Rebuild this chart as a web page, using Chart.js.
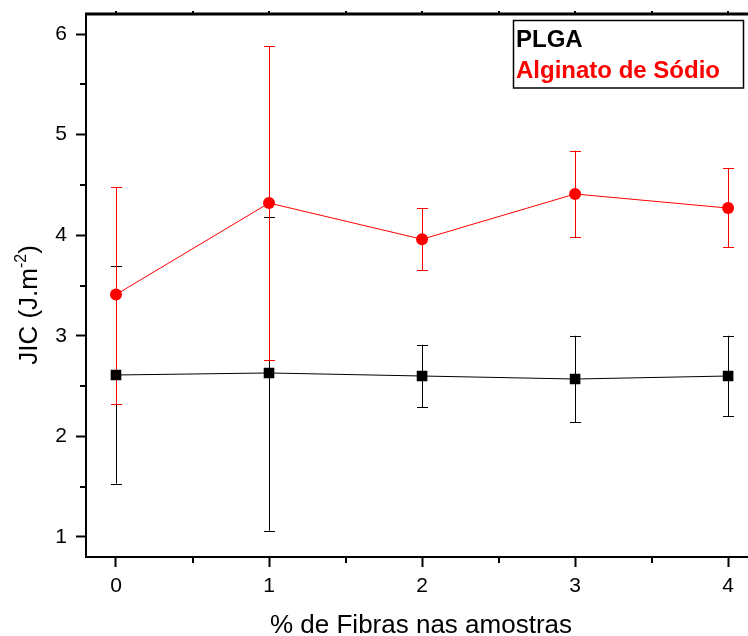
<!DOCTYPE html>
<html>
<head>
<meta charset="utf-8">
<script src="https://cdn.jsdelivr.net/npm/chart.js@4/dist/chart.umd.min.js"></script>
<style>
  html, body { margin: 0; padding: 0; background: #fff; }
  #chart { display: block; }
</style>
</head>
<body>
<canvas id="chart" width="748" height="636"></canvas>
<script>
// dados
const fibras = [0, 1, 2, 3, 4];
const plgaMedia = [2.61, 2.63, 2.60, 2.57, 2.60];
const plgaMax = [3.69, 4.18, 2.91, 3.00, 3.00];
const plgaMin = [1.53, 1.06, 2.29, 2.14, 2.20];
const alginatoMedia = [3.41, 4.32, 3.96, 4.41, 4.27];
const alginatoMax = [4.48, 5.88, 4.27, 4.84, 4.67];
const alginatoMin = [2.32, 2.76, 3.65, 3.98, 3.88];

const xTicks = [0, 1, 2, 3, 4];
const yTicks = [1, 2, 3, 4, 5, 6];
const xMinor = [0.5, 1.5, 2.5, 3.5];
const yMinor = [1.5, 2.5, 3.5, 4.5, 5.5];

const FONT = "'Liberation Sans', Arial, sans-serif";

const toPoints = (ys) => fibras.map((x, i) => ({ x: x, y: ys[i] }));

const errorBars = [
    { hi: plgaMax, lo: plgaMin, color: "#000000" },
    { hi: alginatoMax, lo: alginatoMin, color: "#ff0000" }
];

const noPadding = (scale) => {
    scale.paddingTop = 0;
    scale.paddingBottom = 0;
    scale.paddingLeft = 0;
    scale.paddingRight = 0;
};

// barras de erro, ticks menores, títulos e legenda
const extras = {
    id: "extras",
    beforeDatasetsDraw(chart) {
        const { ctx, scales: { x, y } } = chart;
        ctx.save();
        ctx.lineWidth = 1;
        errorBars.forEach(eb => {
            ctx.strokeStyle = eb.color;
            fibras.forEach((v, i) => {
                const px = Math.round(x.getPixelForValue(v)) + 0.5;
                const top = y.getPixelForValue(eb.hi[i]);
                const bot = y.getPixelForValue(eb.lo[i]);
                ctx.beginPath();
                ctx.moveTo(px, top);
                ctx.lineTo(px, bot);
                ctx.moveTo(px - 5.5, Math.round(top) + 0.5);
                ctx.lineTo(px + 5.5, Math.round(top) + 0.5);
                ctx.moveTo(px - 5.5, Math.round(bot) + 0.5);
                ctx.lineTo(px + 5.5, Math.round(bot) + 0.5);
                ctx.stroke();
            });
        });
        ctx.restore();
    },
    afterDraw(chart) {
        const { ctx, chartArea: area, scales: { x, y } } = chart;
        const W = chart.width;
        ctx.save();
        ctx.strokeStyle = "#000";
        ctx.lineWidth = 2;
        // ticks menores
        ctx.beginPath();
        xMinor.forEach(v => {
            const px = Math.round(x.getPixelForValue(v));
            ctx.moveTo(px, area.bottom);
            ctx.lineTo(px, area.bottom + 6);
            ctx.moveTo(px, area.top);
            ctx.lineTo(px, area.top - 3);
        });
        xTicks.forEach(v => {
            const px = Math.round(x.getPixelForValue(v));
            ctx.moveTo(px, area.top);
            ctx.lineTo(px, area.top - 3);
        });
        yMinor.forEach(v => {
            const py = Math.round(y.getPixelForValue(v));
            ctx.moveTo(area.left, py);
            ctx.lineTo(area.left - 6, py);
        });
        // eixo inferior até a borda da figura
        ctx.moveTo(area.right - 1, area.bottom);
        ctx.lineTo(W, area.bottom);
        ctx.stroke();
        // borda superior
        ctx.lineWidth = 3;
        ctx.beginPath();
        ctx.moveTo(area.left - 1, area.top);
        ctx.lineTo(W, area.top);
        ctx.stroke();

        // títulos dos eixos
        ctx.fillStyle = "#000";
        ctx.font = "26px " + FONT;
        ctx.textAlign = "center";
        ctx.textBaseline = "alphabetic";
        ctx.fillText("% de Fibras nas amostras", 421, 633);

        ctx.save();
        ctx.translate(37, 305);
        ctx.rotate(-Math.PI / 2);
        const base = "JIC (J.m";
        const sup = "-2";
        const end = ")";
        ctx.font = "26px " + FONT;
        const wBase = ctx.measureText(base).width;
        const wEnd = ctx.measureText(end).width;
        ctx.font = "16px " + FONT;
        const wSup = ctx.measureText(sup).width;
        let cx = -(wBase + wSup + wEnd) / 2;
        ctx.textAlign = "left";
        ctx.font = "26px " + FONT;
        ctx.fillText(base, cx, 0);
        cx += wBase;
        ctx.font = "16px " + FONT;
        ctx.fillText(sup, cx, -11);
        cx += wSup;
        ctx.font = "26px " + FONT;
        ctx.fillText(end, cx, 0);
        ctx.restore();

        // legenda
        ctx.lineWidth = 1.5;
        ctx.strokeStyle = "#000";
        ctx.strokeRect(513.5, 20.5, 230, 67.5);
        ctx.textAlign = "left";
        ctx.font = "bold 24px " + FONT;
        ctx.fillStyle = "#000000";
        ctx.fillText("PLGA", 516, 47);
        ctx.fillStyle = "#ff0000";
        ctx.fillText("Alginato de Sódio", 516, 78);
        ctx.restore();
    }
};

new Chart(document.getElementById("chart"), {
    type: "line",
    data: {
        datasets: [
            {
                label: "PLGA",
                data: toPoints(plgaMedia),
                borderColor: "#000000",
                backgroundColor: "#000000",
                borderWidth: 1,
                pointStyle: "rect",
                pointRadius: 7.5,
                pointBorderWidth: 0,
                order: 2
            },
            {
                label: "Alginato de Sódio",
                data: toPoints(alginatoMedia),
                borderColor: "#ff0000",
                backgroundColor: "#ff0000",
                borderWidth: 1,
                pointStyle: "circle",
                pointRadius: 6,
                pointBorderWidth: 0,
                order: 1
            }
        ]
    },
    options: {
        responsive: false,
        devicePixelRatio: 1,
        animation: false,
        layout: { padding: { top: 14, right: 0, left: 0, bottom: 0 } },
        plugins: {
            legend: { display: false },
            tooltip: { enabled: false }
        },
        scales: {
            x: {
                type: "linear",
                min: -0.196,
                max: 4.081,
                afterBuildTicks: (scale) => { scale.ticks = xTicks.map(v => ({ value: v })); },
                afterFit: (scale) => { scale.height = 79; noPadding(scale); },
                grid: { drawOnChartArea: false, tickLength: 10, tickWidth: 2, tickColor: "#000" },
                border: { display: true, width: 2, color: "#000" },
                ticks: { font: { family: FONT, size: 21 }, color: "#000", padding: 7, maxRotation: 0 }
            },
            y: {
                type: "linear",
                min: 0.8,
                max: 6.2,
                afterBuildTicks: (scale) => { scale.ticks = yTicks.map(v => ({ value: v })); },
                afterFit: (scale) => { scale.width = 86; noPadding(scale); },
                grid: { drawOnChartArea: false, tickLength: 10, tickWidth: 2, tickColor: "#000" },
                border: { display: true, width: 2, color: "#000" },
                ticks: { font: { family: FONT, size: 21 }, color: "#000", padding: 9 }
            }
        }
    },
    plugins: [extras]
});
</script>
</body>
</html>
